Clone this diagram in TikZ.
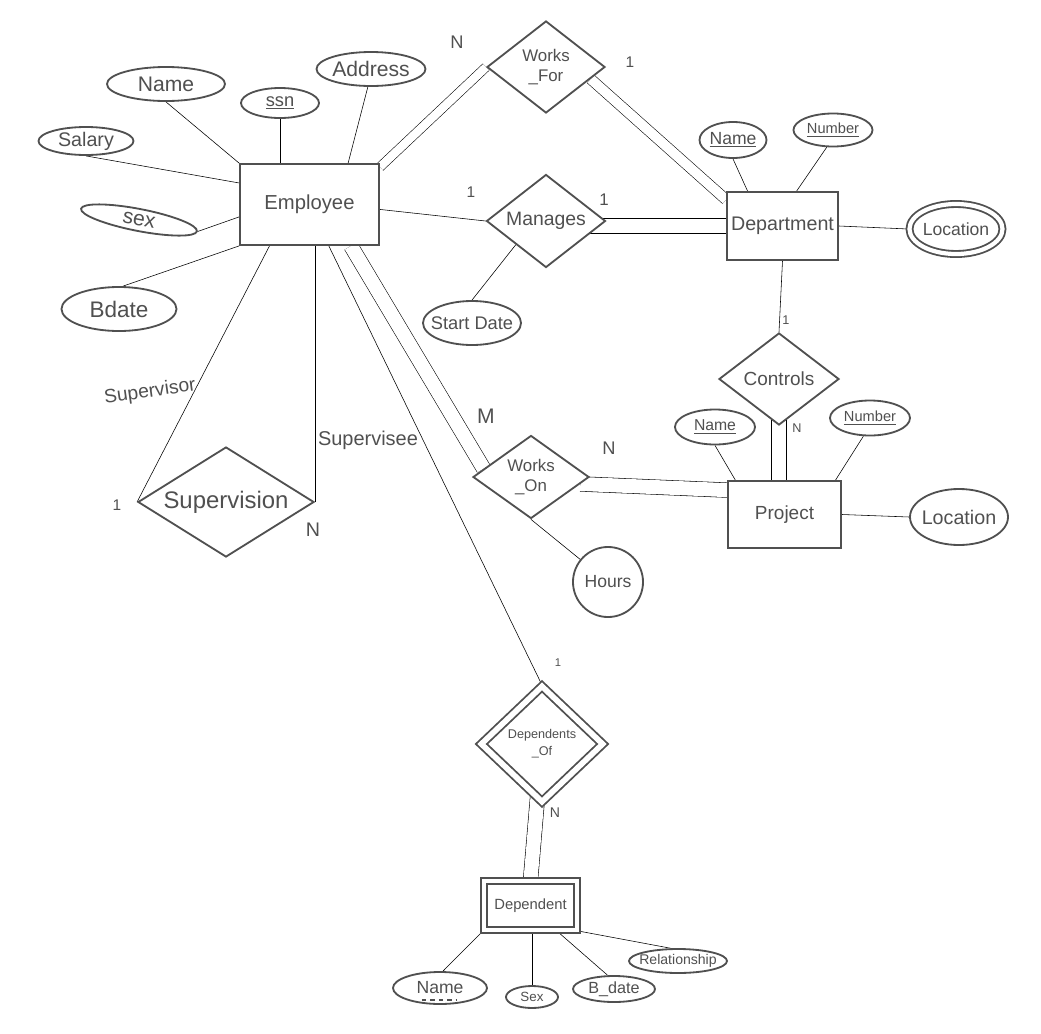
\documentclass[tikz,border=0pt]{standalone}
\usepackage{fontspec}
\setmainfont{Liberation Sans}
\usetikzlibrary{shapes.geometric,backgrounds}
\definecolor{ink}{HTML}{505050}
\newcommand{\fsz}[1]{\fontsize{#1}{#1}\selectfont}

\begin{document}
\begin{tikzpicture}[x=0.025cm,y=-0.025cm,color=ink,line width=1.3pt,
    ent/.style={draw,fill=white,rectangle,inner sep=0pt},
    attr/.style={draw,fill=white,ellipse,inner xsep=-6pt,inner ysep=-1pt},
    rel/.style={draw,fill=white,diamond,inner sep=0pt},
    dbl/.style={double,double distance=#1},
    lbl/.style={inner sep=0pt}]
  \useasboundingbox (0,0) rectangle (1041,1034);

  \node[ent,minimum width=3.475cm,minimum height=2.025cm,font=\fsz{14.4}] (emp) at (309.5,204.5) {Employee};
  \node[ent,minimum width=2.775cm,minimum height=1.7cm,font=\fsz{14}] (dept) at (782.5,226) {Department};
  \node[ent,minimum width=2.825cm,minimum height=1.675cm,font=\fsz{13.5}] (proj) at (784.5,514.5) {Project};
  \node[ent,double,double distance=2.5pt,minimum width=2.325cm,minimum height=1.225cm,font=\fsz{10.5}] (dep) at (530.5,905.5) {Dependent};

  \node[rel,aspect=1.28,minimum width=2.95cm,minimum height=2.3cm,align=center,font={\fontsize{12}{14}\selectfont}] (wf) at (546,67) {Works\\\_For};
  \node[rel,aspect=1.28,minimum width=2.975cm,minimum height=2.325cm,font=\fsz{13.8}] (man) at (546,221) {Manages};
  \node[rel,aspect=1.3,minimum width=3cm,minimum height=2.3cm,font=\fsz{13.5}] (ctrl) at (779,379) {Controls};
  \node[rel,aspect=1.4,minimum width=2.9cm,minimum height=2.075cm,align=center,font={\fontsize{12}{14}\selectfont}] (wo) at (531,477) {Works\\\_On};
  \node[rel,aspect=1.6,minimum width=4.4cm,minimum height=2.75cm,font=\fsz{17}] (sup) at (226,502) {Supervision};
  \node[rel,double,double distance=4pt,aspect=1.05,minimum width=3.05cm,minimum height=2.9cm,align=center,font={\fontsize{9}{12}\selectfont}] (dof) at (542,744) {Dependents\\\_Of};

  \node[attr,minimum width=2.95cm,minimum height=0.85cm,font=\fsz{15}] (eName) at (166,84) {Name};
  \node[attr,minimum width=1.95cm,minimum height=0.75cm,font=\fsz{13}] (eSsn) at (280,103) {\underline{ssn}};
  \node[attr,minimum width=2.725cm,minimum height=0.85cm,font=\fsz{15}] (eAddr) at (371,69) {Address};
  \node[attr,minimum width=2.375cm,minimum height=0.7cm,font=\fsz{14}] (eSal) at (86,141) {Salary};
  \node[attr,rotate=-11,minimum width=2.95cm,minimum height=0.55cm,font=\fsz{15}] (eSex) at (139,220) {sex};
  \node[attr,minimum width=2.875cm,minimum height=1.1cm,font=\fsz{16}] (eBdate) at (119,309) {Bdate};
  \node[attr,minimum width=2.45cm,minimum height=1.1cm,font=\fsz{13}] (sd) at (472,323) {Start Date};

  \node[attr,minimum width=1.675cm,minimum height=0.9cm,font=\fsz{12.5}] (dName) at (733,140) {\underline{Name}};
  \node[attr,minimum width=1.975cm,minimum height=0.825cm,font=\fsz{10.4}] (dNum) at (833,130) {\underline{Number}};
  \node[attr,double,double distance=3pt,minimum width=2.325cm,minimum height=1.25cm,font=\fsz{12.5}] (dLoc) at (956,229) {Location};

  \node[attr,minimum width=2cm,minimum height=0.875cm,font=\fsz{11.2}] (pName) at (715,427) {\underline{Name}};
  \node[attr,minimum width=2cm,minimum height=0.875cm,font=\fsz{10.4}] (pNum) at (870,418) {\underline{Number}};
  \node[attr,minimum width=2.45cm,minimum height=1.4cm,font=\fsz{14}] (pLoc) at (959,517) {Location};
  \node[draw,fill=white,circle,inner sep=0pt,minimum size=1.75cm,font=\fsz{12.5}] (hours) at (608,582) {Hours};

  \node[attr,minimum width=2.35cm,minimum height=0.8cm,font=\fsz{12.5}] (xName) at (440,988) {Name};
  \draw[dashed,line width=0.8pt] ([xshift=-0.45cm,yshift=-0.3cm]xName.center) -- ([xshift=0.4cm,yshift=-0.3cm]xName.center);
  \node[attr,minimum width=1.3cm,minimum height=0.55cm,font=\fsz{9.5}] (xSex) at (532,997) {Sex};
  \node[attr,minimum width=2.05cm,minimum height=0.65cm,font=\fsz{11.5}] (xBd) at (614,989) {B\_date};
  \node[attr,minimum width=2.45cm,minimum height=0.6cm,font=\fsz{10}] (xRel) at (678,961) {Relationship};

  \node[lbl,font=\fsz{13}] (cWf1) at (457,42) {N};
  \node[lbl,font=\fsz{11}] (cWf2) at (630,62) {1};
  \node[lbl,font=\fsz{11}] (cMan1) at (471,192) {1};
  \node[lbl,font=\fsz{12}] (cMan2) at (604,200) {1};
  \node[lbl,font=\fsz{9}] (cCtl1) at (786,320) {1};
  \node[lbl,font=\fsz{9}] (cCtl2) at (797,428) {N};
  \node[lbl,font=\fsz{15}] (cWo1) at (486,416) {M};
  \node[lbl,font=\fsz{13}] (cWo2) at (609,448) {N};
  \node[lbl,font=\fsz{11}] (cSup1) at (117,505) {1};
  \node[lbl,font=\fsz{14}] (cSup2) at (313,530) {N};
  \node[lbl,font=\fsz{8}] (cDof1) at (558,663) {1};
  \node[lbl,font=\fsz{10}] (cDof2) at (555,813) {N};
  \node[lbl,rotate=8,font=\fsz{13.7}] (rSupr) at (150,392) {Supervisor};
  \node[lbl,font=\fsz{14.2}] (rSupe) at (368,440) {Supervisee};

  \begin{scope}[on background layer]
    \draw (eName.south) -- (emp.north west);
    \draw (eSsn.south) -- (eSsn.south |- emp.north);
    \draw (eAddr.260) -- (emp.47);
    \draw (eSal.south) -- (emp.163);
    \draw (eSex.east) -- (emp.190);
    \draw (eBdate.80) -- (emp.south west);
    \draw[dbl=6pt] (emp.28) -- (wf.west);
    \draw[dbl=7pt] (wf.-15) -- (dept.155);
    \draw (emp.-4) -- (man.west);
    \draw[dbl=10pt] (man.center |- dept.west) -- (dept.west);
    \draw (sd.north) -- (man.south west);
    \draw (dName.south) -- (dept.135);
    \draw (dNum.250) -- (dept.68);
    \draw (dept.east) -- (dLoc.west);
    \draw (dept.south) -- (ctrl.north);
    \draw[dbl=10pt] (ctrl.center) -- (ctrl.center |- proj.north);
    \draw (pName.south) -- (proj.145);
    \draw (pNum.250) -- (proj.34);
    \draw (proj.east) -- (pLoc.west);
    \draw[dbl=10pt] (emp.-45) -- (wo.170);
    \draw[dbl=10pt] (wo.-8) -- (proj.157);
    \draw (wo.south) -- (hours);
    \draw (emp.-134) -- (sup.west);
    \draw (sup.east) -- (sup.east |- emp.south);
    \draw (emp.-65.5) -- (dof.north);
    \draw[dbl=10pt] (dof.center) -- (dep.north);
    \draw (dep.south west) -- (xName.80);
    \draw (xSex.north) -- (xSex.north |- dep.south);
    \draw (dep.-44) -- (xBd.115);
    \draw (dep.south east) -- (xRel.120);
  \end{scope}
\end{tikzpicture}
\end{document}
